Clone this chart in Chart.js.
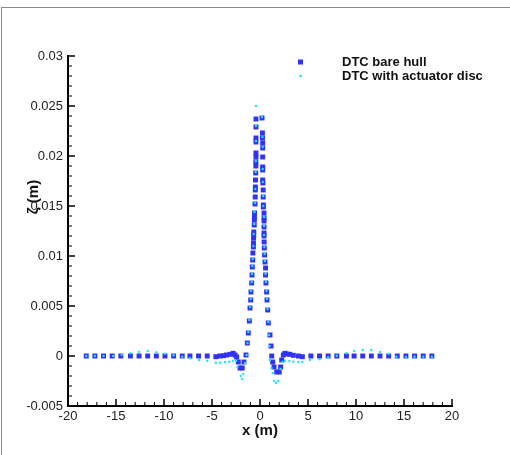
<!DOCTYPE html>
<html>
<head>
<meta charset="utf-8">
<script src="https://cdn.jsdelivr.net/npm/chart.js@4.4.1/dist/chart.umd.min.js"></script>
<style>
  body { margin: 0; background: #fff; }
  #wrap { position: relative; width: 510px; height: 455px; }
  #frame { position: absolute; left: 1px; top: 7px; width: 600px; height: 600px;
           border-left: 1px solid #8c8c8c; border-top: 1px solid #8c8c8c; pointer-events: none; }
</style>
</head>
<body>
<div id="wrap">
  <canvas id="c" width="510" height="455"></canvas>
  <div id="frame"></div>
</div>
<script>
'use strict';

// 축 범위
const xRange = [-20, 20];
const yRange = [-0.005, 0.03];

const seriesLabels = ['DTC bare hull', 'DTC with actuator disc'];

// DTC bare hull (x, zeta)
const hullX = [-18.1, -17.2, -16.3, -15.4, -14.5, -13.5, -12.6, -11.7, -10.8, -9.9, -9.0, -8.1, -7.3, -6.4, -5.5, -4.6,
  -4.17, -3.8, -3.5, -3.1, -2.8, -2.6, -2.43, -2.26, -2.08, -1.85, -1.67, -1.46, -1.32, -1.22, -1.11,
  -1.04, -0.97, -0.94, -0.87, -0.83, -0.8, -0.76, -0.74, -0.69, -0.68, -0.67, -0.66, -0.65, -0.6, -0.59, -0.58, -0.57,
  -0.52, -0.5, -0.49, -0.48, -0.47, -0.45, -0.43, -0.43, -0.42, -0.42, -0.42, -0.42, -0.42, -0.42,
  0.21, 0.25, 0.26, 0.28, 0.28, 0.28, 0.28, 0.28, 0.28, 0.3, 0.33, 0.33, 0.35, 0.35, 0.42, 0.42, 0.42, 0.42, 0.42,
  0.42, 0.43, 0.45, 0.48, 0.52, 0.58, 0.58, 0.62, 0.69, 0.73, 0.8, 0.87, 1.04, 1.15, 1.22, 1.32, 1.46, 1.74, 2.01,
  2.15, 2.26, 2.43, 2.6, 2.78, 3.1, 3.47, 4.0, 4.41, 5.3, 6.2, 7.1, 8.0, 9.0, 9.8, 10.7, 11.6, 12.5, 13.4, 14.3,
  15.2, 16.1, 17.0, 17.9];
const hullZeta = [0, 0, 0, 0, 0, 0, 0, 0, 0, 0, 0, 0, 0, 0, 0, -0.00007,
  0, 0.00003, 0.0001, 0.00017, 0.00027, 0.0001, -0.0001, -0.0006, -0.0012, -0.0012, -0.0006, 0.0001, 0.0013, 0.0023, 0.0035,
  0.0048, 0.0056, 0.0064, 0.0073, 0.0081, 0.0089, 0.0096, 0.0103, 0.0109, 0.0113, 0.0118, 0.0121, 0.0124, 0.0131, 0.0136, 0.0139, 0.0143,
  0.0152, 0.0159, 0.0166, 0.0169, 0.0176, 0.0183, 0.019, 0.0194, 0.0199, 0.0203, 0.0214, 0.0218, 0.0229, 0.0237,
  0.0238, 0.0223, 0.0218, 0.0213, 0.0208, 0.0199, 0.0189, 0.0186, 0.0176, 0.0173, 0.0166, 0.0159, 0.0151, 0.0149, 0.0143, 0.0138, 0.0135, 0.0129, 0.0123,
  0.012, 0.0114, 0.0108, 0.0101, 0.0094, 0.0088, 0.0081, 0.0073, 0.0064, 0.0056, 0.0046, 0.0033, 0.0021, 0.001, 0, -0.0006, -0.0011, -0.0016, -0.0016,
  -0.0011, -0.0004, 0.0001, 0.00027, 0.0002, 0.00017, 0.00007, 0, -0.00007, 0, 0, 0, 0, 0, 0, 0, 0, 0, 0, 0,
  0, 0, 0, 0];

// DTC with actuator disc (x, zeta)
const discX = [-18.1, -17.2, -16.3, -15.3, -14.4, -13.5, -12.6, -11.7, -10.8, -9.9, -9.0, -8.1, -7.3, -6.35, -5.5, -4.6,
  -4.17, -3.65, -3.2, -2.8, -2.5, -2.36, -2.0, -1.88, -1.74, -1.56, -1.39, -1.3, -1.22, -1.11,
  -1.04, -0.97, -0.94, -0.87, -0.83, -0.8, -0.76, -0.69, -0.66, -0.6, -0.57, -0.52, -0.49, -0.45, -0.43, -0.42, -0.42, -0.42,
  0.21, 0.26, 0.28, 0.28, 0.3, 0.33, 0.35, 0.42, 0.42, 0.42, 0.45, 0.48, 0.52, 0.58, 0.62, 0.69, 0.73, 0.8, 0.87, 0.95, 1.0,
  1.04, 1.2, 1.32, 1.46, 1.67, 1.91, 2.15, 2.3, 2.6, 3.06, 3.47, 3.99, 4.41, 5.2, 6.2, 7.1, 8.0, 9.0, 9.8, 10.7, 11.6,
  12.5, 13.4, 14.2, 15.2, 16.1, 17.0, 17.9];
const discZeta = [0, 0, 0, 0, 0.00013, 0.00027, 0.0004, 0.0005, 0.00037, 0.00023, 0.00007, -0.00007, -0.00023, -0.0004, -0.00047, -0.00067,
  -0.00067, -0.0006, -0.00057, -0.00047, -0.0005, -0.0011, -0.002, -0.0023, -0.0018, -0.0007, 0.0001, 0.0013, 0.0024, 0.0036,
  0.0049, 0.0057, 0.0065, 0.0074, 0.0082, 0.009, 0.0097, 0.011, 0.0122, 0.0132, 0.0144, 0.0153, 0.0167, 0.0184, 0.0195, 0.0215, 0.023, 0.025,
  0.0239, 0.0219, 0.0209, 0.0187, 0.0174, 0.016, 0.015, 0.0139, 0.013, 0.0121, 0.0109, 0.0102, 0.0095, 0.0082, 0.0074, 0.0065, 0.0057, 0.0047, 0.0034, 0.0021, 0.001,
  -0.0004, -0.0012, -0.0017, -0.0025, -0.0027, -0.0025, -0.0013, -0.0006, -0.00047, -0.0005, -0.00057, -0.0006, -0.0006, -0.0004, -0.00033, -0.00013, 0.00003, 0.00027, 0.0005, 0.0006, 0.0006,
  0.0004, 0.0002, -0.00007, -0.0001, -0.00007, -0.00007, -0.00007];

const hullColor = '#3232f2';
const discColor = '#1ee3ff';

function toPoints(xs, ys) {
    return xs.map((x, i) => ({ x: x, y: ys[i] }));
}

// 안쪽 눈금, 축 제목, 범례를 직접 그림
const decorPlugin = {
    id: 'decor',
    afterDraw(chart) {
        const ctx = chart.ctx;
        const xs = chart.scales.x;
        const ys = chart.scales.y;
        const area = chart.chartArea;
        ctx.save();
        ctx.strokeStyle = '#000';

        // x 눈금 (위쪽으로)
        const xt = xs.ticks.map(t => t.value);
        for (let i = 0; i < xt.length; i++) {
            const px = xs.getPixelForValue(xt[i]);
            ctx.lineWidth = 1.5;
            ctx.beginPath(); ctx.moveTo(px, area.bottom); ctx.lineTo(px, area.bottom - 7); ctx.stroke();
            if (i < xt.length - 1) {
                ctx.lineWidth = 1;
                for (let k = 1; k < 5; k++) {
                    const mx = xs.getPixelForValue(xt[i] + (xt[i + 1] - xt[i]) * k / 5);
                    ctx.beginPath(); ctx.moveTo(mx, area.bottom); ctx.lineTo(mx, area.bottom - 4); ctx.stroke();
                }
            }
        }
        // y 눈금 (오른쪽으로)
        const yt = ys.ticks.map(t => t.value);
        for (let i = 0; i < yt.length; i++) {
            const py = ys.getPixelForValue(yt[i]);
            ctx.lineWidth = 1.5;
            ctx.beginPath(); ctx.moveTo(area.left, py); ctx.lineTo(area.left + 7, py); ctx.stroke();
            if (i < yt.length - 1) {
                ctx.lineWidth = 1;
                for (let k = 1; k < 5; k++) {
                    const my = ys.getPixelForValue(yt[i] + (yt[i + 1] - yt[i]) * k / 5);
                    ctx.beginPath(); ctx.moveTo(area.left, my); ctx.lineTo(area.left + 4, my); ctx.stroke();
                }
            }
        }

        // 축 제목
        ctx.fillStyle = '#111';
        ctx.font = 'bold 15px "Liberation Sans", Arial, sans-serif';
        ctx.textAlign = 'center';
        ctx.textBaseline = 'middle';
        ctx.fillText('x (m)', (area.left + area.right) / 2, 431);
        ctx.save();
        ctx.translate(34, 197);
        ctx.rotate(-Math.PI / 2);
        ctx.fillText('\u03B6 (m)', 0, 0);
        ctx.restore();

        // 범례
        ctx.font = 'bold 13px "Liberation Sans", Arial, sans-serif';
        ctx.textAlign = 'left';
        const rows = [62, 76];
        chart.data.datasets.forEach((ds, i) => {
            const y = rows[i];
            ctx.fillStyle = ds.backgroundColor;
            if (ds.pointStyle === 'rect') ctx.fillRect(298, y - 2.5, 5, 5);
            else { ctx.beginPath(); ctx.arc(300.5, y, 1.3, 0, Math.PI * 2); ctx.fill(); }
            ctx.fillStyle = '#111';
            ctx.fillText(ds.label, 342, y);
        });
        ctx.restore();
    }
};

new Chart(document.getElementById('c'), {
    type: 'scatter',
    data: {
        datasets: [
            { label: seriesLabels[0], data: toPoints(hullX, hullZeta), pointStyle: 'rect', pointRadius: 3.5,
              backgroundColor: hullColor, borderColor: hullColor, borderWidth: 0, order: 1 },
            { label: seriesLabels[1], data: toPoints(discX, discZeta), pointStyle: 'circle', pointRadius: 1.2,
              backgroundColor: discColor, borderColor: discColor, borderWidth: 0, order: 0 }
        ]
    },
    options: {
        responsive: false,
        animation: false,
        layout: { padding: { top: 56, right: 58, left: 0, bottom: 0 } },
        plugins: { legend: { display: false }, tooltip: { enabled: false } },
        scales: {
            x: {
                type: 'linear', min: xRange[0], max: xRange[1],
                grid: { display: false, drawTicks: false },
                border: { display: true, color: '#000', width: 2 },
                ticks: { stepSize: 5, padding: 3, color: '#222',
                         font: { family: '"Liberation Sans", Arial, sans-serif', size: 13 } },
                afterFit(s) { s.height = 49; }
            },
            y: {
                type: 'linear', min: yRange[0], max: yRange[1],
                grid: { display: false, drawTicks: false },
                border: { display: true, color: '#000', width: 2 },
                ticks: { stepSize: 0.005, padding: 5, color: '#222',
                         font: { family: '"Liberation Sans", Arial, sans-serif', size: 13 },
                         callback: v => String(parseFloat(v.toFixed(4))) },
                afterFit(s) { s.width = 68; }
            }
        }
    },
    plugins: [decorPlugin]
});
</script>
</body>
</html>
